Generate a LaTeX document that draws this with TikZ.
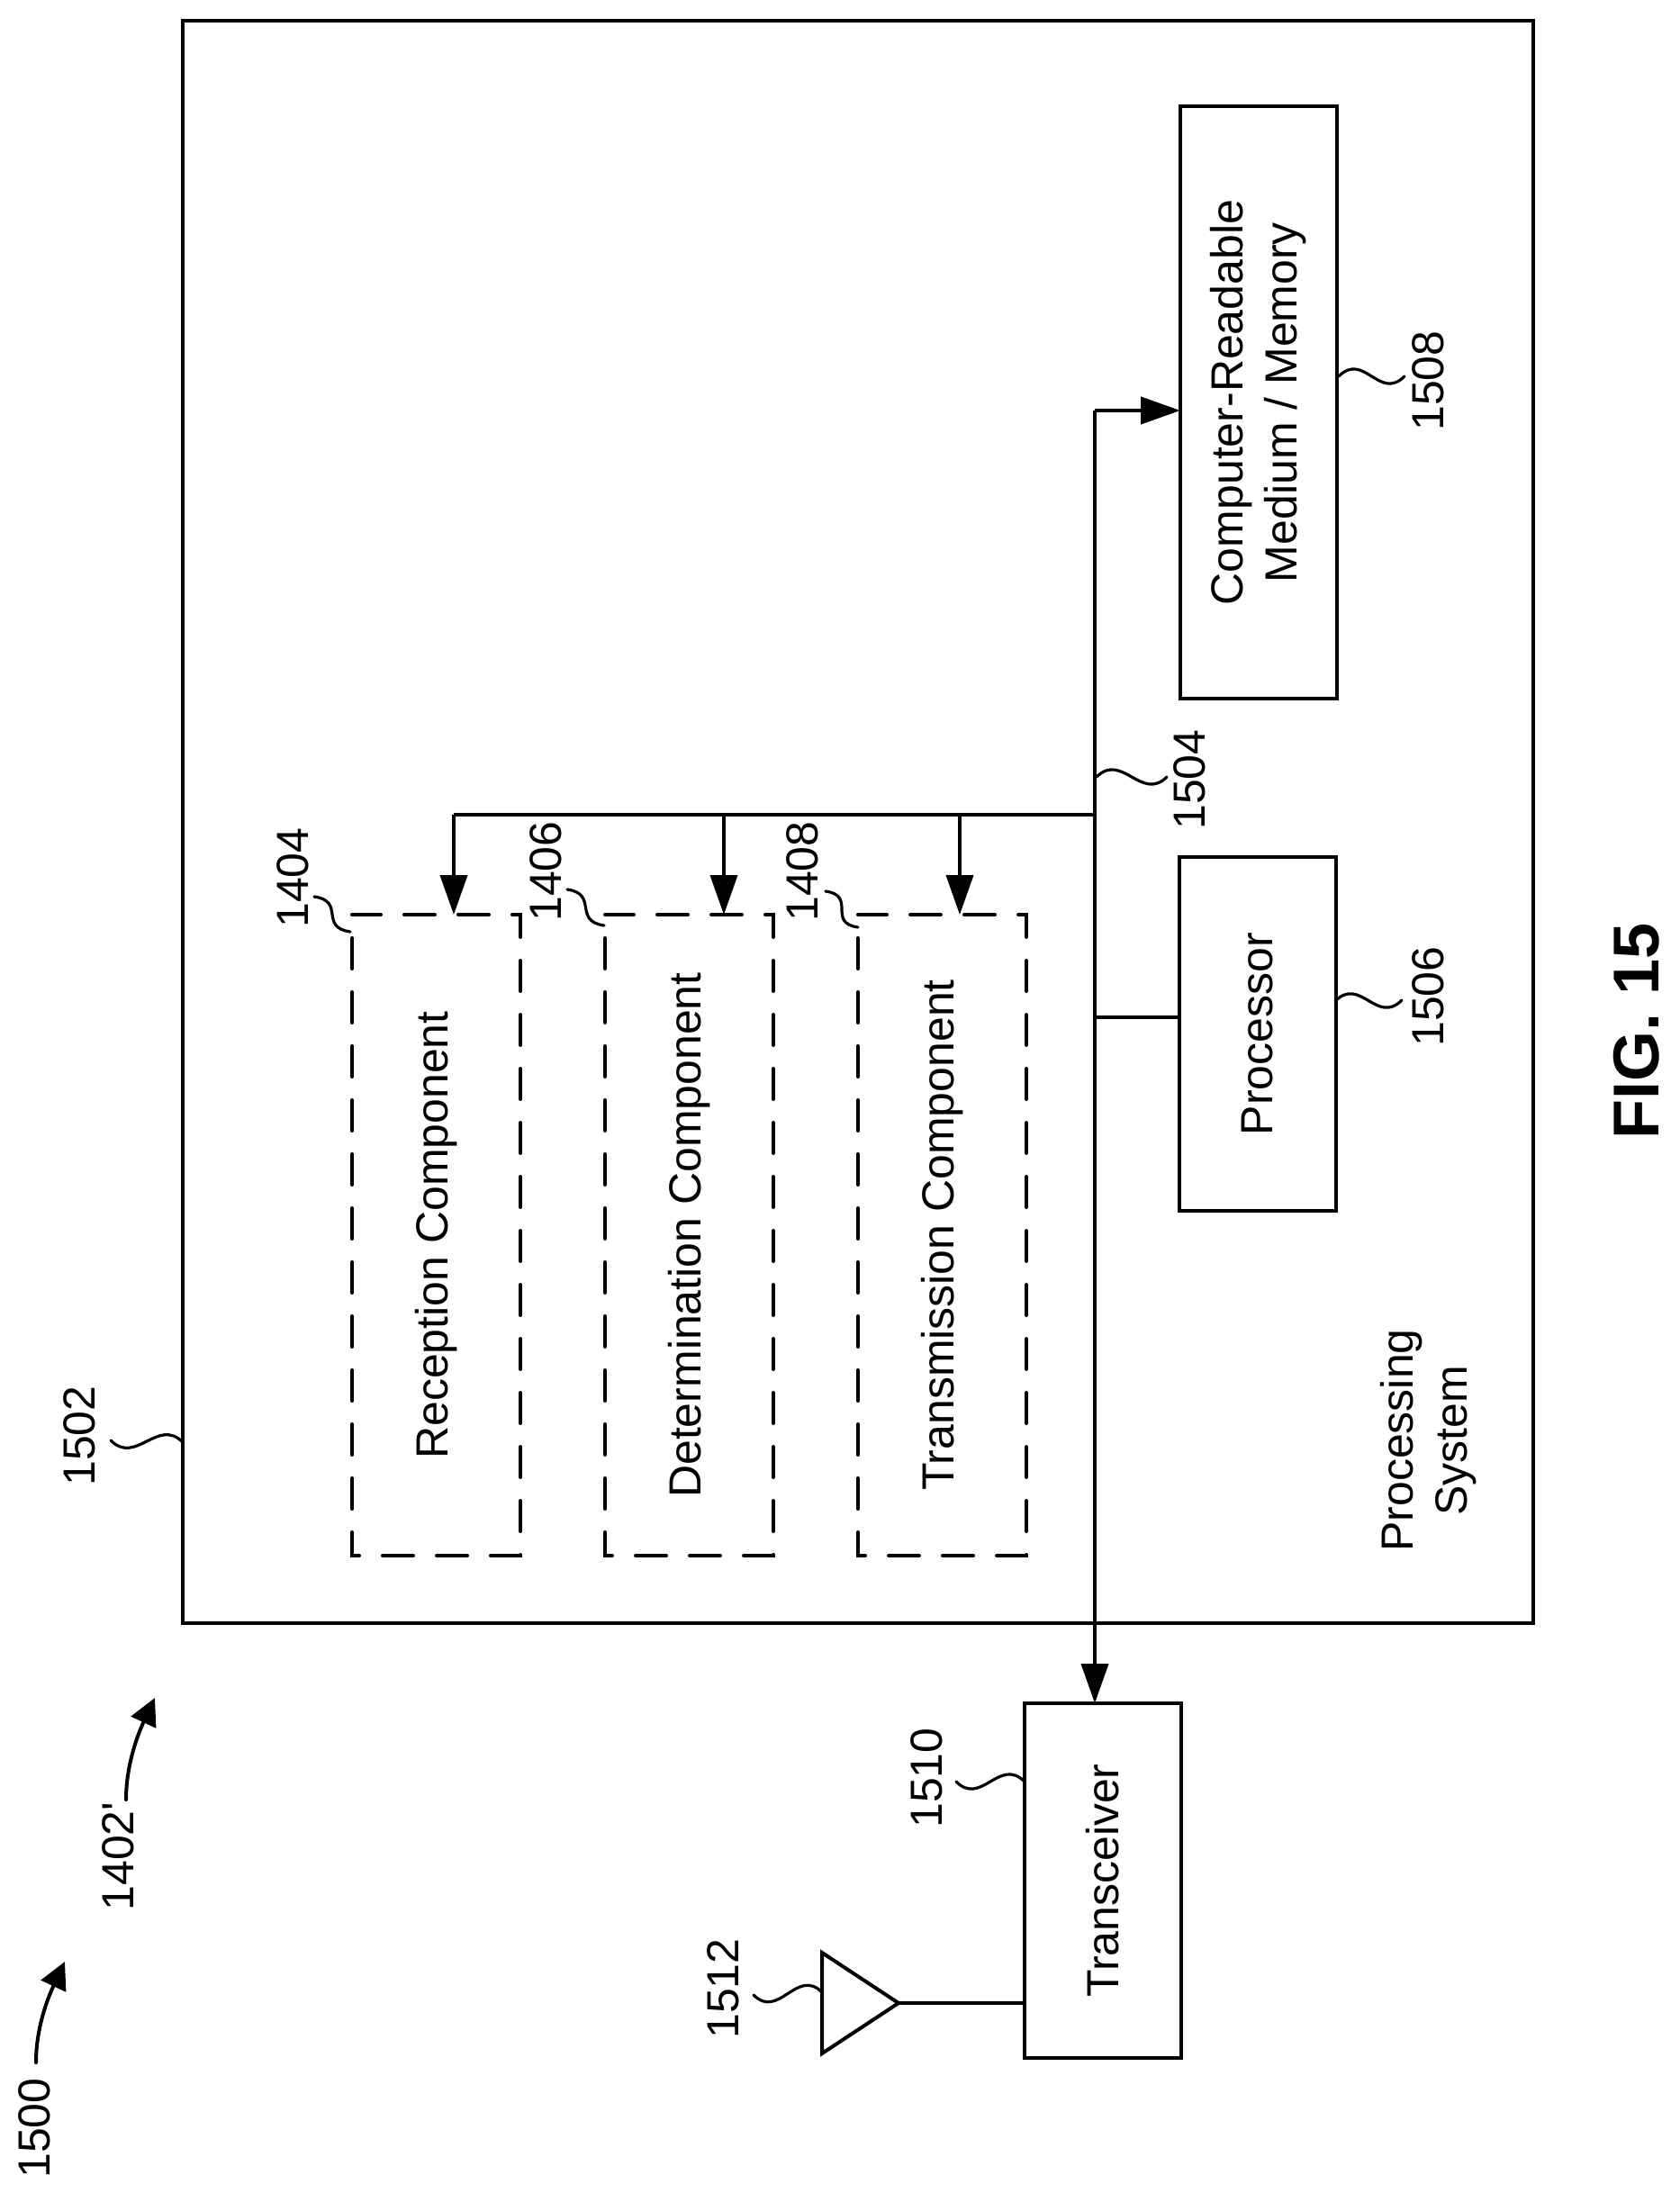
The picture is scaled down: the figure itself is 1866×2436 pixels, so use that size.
\documentclass[tikz,border=0pt]{standalone}
\usepackage{fontspec}
\setmainfont{Liberation Sans}
\newfontfamily\numfont{Liberation Sans}
\usetikzlibrary{arrows.meta}

\tikzset{
  box/.style={draw, line width=2pt, rotate=90, align=center, inner sep=0pt, outer sep=0pt, font=\fontsize{25}{30}\selectfont},
  dashbox/.style={box, line width=2pt, line cap=round, dash pattern=on 17pt off 13pt, dash phase=17pt},
  plaintext/.style={rotate=90, align=center, inner sep=0pt, font=\fontsize{25}{30}\selectfont},
  wire/.style={line width=2pt},
  feed/.style={wire, -{Triangle[length=22pt,width=15pt]}},
  leader/.style={line width=1.6pt, line cap=round},
  refnum/.style={rotate=90, inner sep=0pt, font=\fontsize{25}{30}\selectfont\numfont},
  sweep/.style={line width=2pt, line cap=round, -{Triangle[length=15pt,width=15pt]}}
}

\begin{document}
\begin{tikzpicture}[x=0.5pt,y=-0.5pt]
  \useasboundingbox (0,0) rectangle (1866,2436);

  % Processing system frame
  \node[box, minimum width=890pt, minimum height=750pt] (system) at (953,913) {};
  \node[plaintext] (systemtext) at (1587,1600) {Processing\\System};

  % Dashed components
  \node[dashbox, minimum width=356pt, minimum height=93.5pt] (reception) at (484.5,1372) {Reception Component};
  \node[dashbox, minimum width=356pt, minimum height=93.5pt] (determination) at (765.5,1372) {Determination Component};
  \node[dashbox, minimum width=356pt, minimum height=93.5pt] (transmission) at (1046.5,1372) {Transmission Component};

  % Memory and processor
  \node[box, minimum width=329pt, minimum height=87pt] (memory) at (1398,447) {Computer-Readable\\Medium / Memory};
  \node[box, minimum width=196.5pt, minimum height=87pt] (processor) at (1397,1148.5) {Processor};

  % Transceiver and antenna
  \node[box, minimum width=197pt, minimum height=87pt] (transceiver) at (1225,2089) {Transceiver};
  \coordinate (anttop) at (913,2169);
  \coordinate (antbot) at (913,2281);
  \coordinate (anttip) at (998,2225);
  \draw[line width=2pt, line join=miter] (anttop) -- (anttip) -- (antbot) -- cycle;
  \draw[wire] (anttip) -- (anttip -| transceiver.north);

  % Bus
  \coordinate (buscorner) at (1216,456);
  \coordinate (bustap) at (1216,905);
  \coordinate (branchend) at (504,905);
  \coordinate (drop2) at (804,905);
  \coordinate (drop3) at (1066,905);
  \coordinate (proctap) at (1216,1130);
  \draw[feed] (buscorner) -- (buscorner -| memory.north);
  \draw[feed] (buscorner) -- (buscorner |- transceiver.east);
  \draw[wire] (proctap) -- (proctap -| processor.north);
  \draw[wire] (bustap) -- (branchend);
  \draw[feed] (branchend) -- (branchend |- reception.east);
  \draw[feed] (drop2) -- (drop2 |- determination.east);
  \draw[feed] (drop3) -- (drop3 |- transmission.east);

  % Reference numbers
  \node[refnum] (n1500) at (38,2364) {1500};
  \node[refnum] (n1402) at (131,2062) {1402'};
  \node[refnum] (n1502) at (88,1595) {1502};
  \node[refnum] (n1404) at (325,975) {1404};
  \node[refnum] (n1406) at (606,968) {1406};
  \node[refnum] (n1408) at (891,968) {1408};
  \node[refnum] (n1504) at (1321,866) {1504};
  \node[refnum] (n1506) at (1586,1107) {1506};
  \node[refnum] (n1508) at (1586,423) {1508};
  \node[refnum] (n1510) at (1029,1975) {1510};
  \node[refnum] (n1512) at (803,2209) {1512};

  % Leaders
  \draw[leader] (203,1602) .. controls +(-28,-28) and +(28,28) .. (123,1600);
  \draw[leader] (389,1035) .. controls +(-35,-5) and +(35,5) .. (349,996);
  \draw[leader] (671,1028) .. controls +(-35,-5) and +(35,5) .. (630,988);
  \draw[leader] (953,1030) .. controls +(-35,-5) and +(35,5) .. (917,990);
  \draw[leader] (1218,863) .. controls +(28,-28) and +(-28,28) .. (1296,863);
  \draw[leader] (1483,1112) .. controls +(28,-28) and +(-28,28) .. (1557,1111);
  \draw[leader] (1487,418) .. controls +(28,-28) and +(-28,28) .. (1560,418);
  \draw[leader] (1138,1979) .. controls +(-28,-28) and +(28,28) .. (1062,1979);
  \draw[leader] (913,2213) .. controls +(-28,-28) and +(28,28) .. (837,2216);

  % Sweep arrows
  \coordinate (s1500a) at (40,2291);
  \coordinate (s1500b) at (72,2179);
  \draw[sweep] (s1500a) .. controls +(0,-45) and +(-14,30) .. (s1500b);
  \coordinate (s1402a) at (140,1999);
  \coordinate (s1402b) at (172,1886);
  \draw[sweep] (s1402a) .. controls +(0,-45) and +(-14,30) .. (s1402b);

  % Figure label
  \node[rotate=90, inner sep=0pt, font=\fontsize{36}{42}\selectfont\bfseries] (figlabel) at (1818,1145) {FIG. 15};
\end{tikzpicture}
\end{document}
